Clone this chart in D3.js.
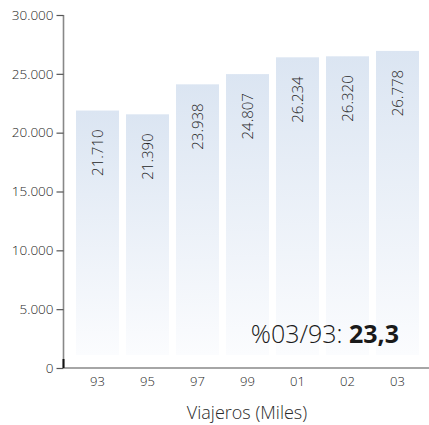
<!DOCTYPE html>
<html><head><meta charset="utf-8">
<script src="https://cdn.jsdelivr.net/npm/d3@7"></script>
<style>body{margin:0;background:#fff}svg{display:block}</style>
</head><body>
<svg id="c" width="429" height="425"></svg>
<script>
const categories = ["93","95","97","99","01","02","03"];
const values = [21710,21390,23938,24807,26234,26320,26778];
const valueLabels = ["21.710","21.390","23.938","24.807","26.234","26.320","26.778"];
const yTicks = [0,5000,10000,15000,20000,25000,30000];
const yTickLabels = ["0","5.000","10.000","15.000","20.000","25.000","30.000"];
const axisTitle = "Viajeros (Miles)";
const noteText = "%03/93: ";
const noteValue = "23,3";

const svg = d3.select("#c");
const font = "'Open Sans', 'Noto Sans', sans-serif";
const x = d3.scaleBand().domain(categories).range([72.5,422.5]).paddingInner(0.14).paddingOuter(0.07);
const y = d3.scaleLinear().domain([0,30000]).range([368,15]);

const defs = svg.append("defs");
const g = defs.append("linearGradient").attr("id","bg").attr("x1",0).attr("y1",0).attr("x2",0).attr("y2",1);
g.append("stop").attr("offset","0%").attr("stop-color","#dbe5f2");
g.append("stop").attr("offset","100%").attr("stop-color","#fbfcfe");

svg.selectAll("rect.bar").data(values).enter().append("rect")
  .attr("class","bar")
  .attr("x",(d,i)=>x(categories[i]))
  .attr("width",x.bandwidth())
  .attr("y",d=>y(d)-2)
  .attr("height",d=>y(0)-y(d)-11)
  .attr("fill","url(#bg)");

svg.selectAll("text.val").data(values).enter().append("text")
  .attr("class","val")
  .attr("transform",(d,i)=>`translate(${x(categories[i])+x.bandwidth()/2+5},${y(d)+17}) rotate(-90)`)
  .attr("text-anchor","end")
  .attr("font-family",font).attr("font-weight",300).attr("font-size",15).attr("fill","#1e1e1e")
  .text((d,i)=>valueLabels[i]);

// y axis
const yAxis = d3.axisLeft(y).tickValues(yTicks).tickFormat((d,i)=>yTickLabels[i]).tickSize(7).tickPadding(3);
const ya = svg.append("g").attr("transform","translate(63.5,0)").call(yAxis);
ya.select(".domain").attr("stroke","#888").attr("stroke-width",1.6).attr("d","M0,15V368");
ya.selectAll(".tick line").attr("stroke","#555").attr("stroke-width",1.2);
ya.selectAll(".tick text").attr("font-family",font).attr("font-weight",300).attr("font-size",13.5).attr("fill","#1e1e1e");

// x axis
const xAxis = d3.axisBottom(x).tickSize(0).tickPadding(9);
const xa = svg.append("g").attr("transform","translate(0,368)").call(xAxis);
xa.select(".domain").attr("stroke","#888").attr("stroke-width",1.6).attr("d","M63,0H429");
xa.selectAll(".tick text").attr("font-family",font).attr("font-weight",300).attr("font-size",13).attr("fill","#1e1e1e");

svg.append("line").attr("x1",63.5).attr("x2",63.5).attr("y1",359).attr("y2",368)
  .attr("stroke","#111").attr("stroke-width",2);

svg.append("text").attr("x",247).attr("y",419).attr("text-anchor","middle")
  .attr("font-family",font).attr("font-weight",300).attr("font-size",18).attr("fill","#2a2a2a").text(axisTitle);

const note = svg.append("text").attr("x",399).attr("y",343).attr("text-anchor","end")
  .attr("font-family",font).attr("font-size",25).attr("fill","#1a1a1a");
note.append("tspan").attr("font-weight",300).text(noteText);
note.append("tspan").attr("font-weight","bold").text(noteValue);
</script>
</body></html>
